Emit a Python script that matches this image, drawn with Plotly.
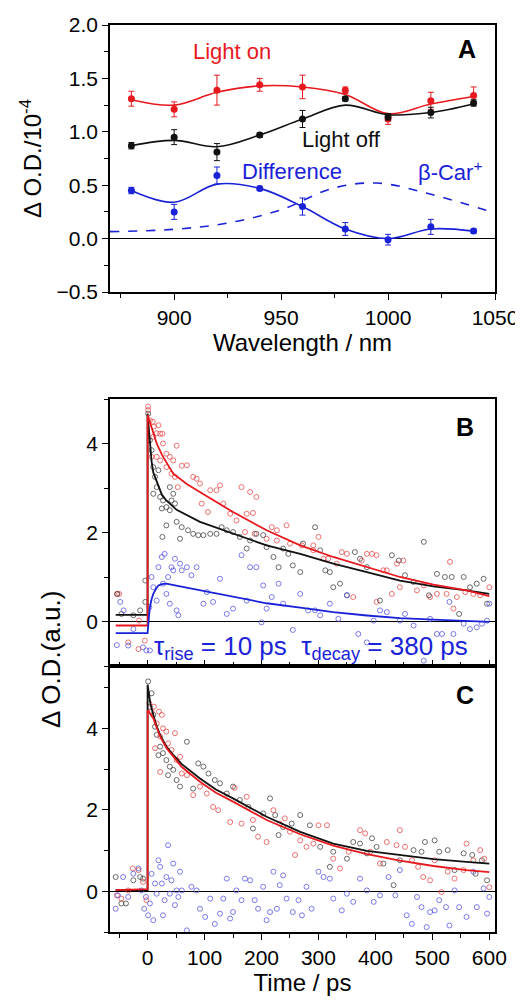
import plotly.graph_objects as go

# ==========================================
# PANEL A: spectra (wavelength in nm, dOD in 1e-4)
# ==========================================
wl = [880, 900, 920, 940, 960, 980, 1000, 1020, 1040]
on_y = [1.31, 1.21, 1.39, 1.44, 1.42, 1.39, 1.12, 1.29, 1.34]
on_err = [0.07, 0.07, 0.14, 0.06, 0.11, 0.03, 0.05, 0.08, 0.08]
off_y = [0.87, 0.95, 0.81, 0.97, 1.12, 1.31, 1.14, 1.18, 1.27]
off_err = [0.03, 0.07, 0.08, 0.02, 0.08, 0.02, 0.03, 0.05, 0.03]
diff_y = [0.45, 0.25, 0.59, 0.47, 0.30, 0.09, -0.01, 0.11, 0.07]
diff_err = [0.03, 0.07, 0.08, 0.02, 0.08, 0.06, 0.05, 0.07, 0.02]

# smooth guide curves
on_fit = [1.30, 1.25, 1.37, 1.43, 1.42, 1.35, 1.17, 1.26, 1.33]
off_fit = [0.87, 0.92, 0.86, 0.97, 1.12, 1.25, 1.16, 1.18, 1.26]
diff_fit = [0.45, 0.34, 0.51, 0.47, 0.30, 0.09, 0.00, 0.09, 0.07]

car_wl = [870, 900, 925, 950, 974, 995, 1021, 1050]
car_y = [0.065, 0.087, 0.146, 0.27, 0.47, 0.52, 0.41, 0.24]

# ==========================================
# PANEL B: kinetics (time in ps)
# ==========================================
b_red_t = [-54, -50, -34, -16, -5, -15, 1, 1, 4, 9, 11, 16, 19, 22, 26, 27, 10, 7, 16, 22, 33,
           39, 45, 33, 51, 42, 48, 53, 69, 80, 86, 92, 110, 127, 121, 95, 106, 133, 145, 156,
           165, 180, 191, 174, 185, 171, 188, 218, 227, 244, 209, 227, 250, 271, 291, 300, 291,
           309, 317, 341, 350, 332, 385, 394, 402, 376, 414, 420, 438, 449, 429, 443, 473, 485,
           496, 508, 525, 531, 543, 558, 572, 584, 600, 402, 361, 537, 60]
b_red_y = [0.62, 0.62, -0.47, -0.62, -0.43, 0.02, 4.83, 4.75, 4.52, 4.49, 4.38, 4.23, 4.41, 4.22,
           4.22, 4.0, 4.15, 3.7, 3.7, 3.62, 3.77, 3.7, 3.62, 3.47, 3.95, 3.32, 3.25, 3.02, 3.51,
           3.25, 3.21, 3.1, 2.95, 3.06, 2.95, 2.65, 2.46, 2.65, 2.42, 2.27, 3.02, 2.91, 2.8, 2.42,
           2.44, 2.01, 1.97, 2.12, 2.05, 2.16, 1.86, 1.82, 1.75, 1.71, 1.71, 1.9, 1.6, 1.41, 1.41,
           1.56, 1.52, 1.3, 1.52, 1.52, 1.49, 1.37, 1.15, 1.15, 1.3, 1.37, 0.62, 0.77, 0.7, 0.81,
           0.55, 0.62, 0.62, 1.34, 0.55, 0.66, 0.62, 0.59, 0.77, 0.44, 0.55, 0.29, 3.5]

b_blk_t = [-53, -46, -25, -13, -4, -4, 1, 4, 7, 10, 13, 16, 10, 19, 22, 27, 25, 33, 39, 42, 45,
           48, 39, 33, 26, 51, 57, 60, 71, 80, 89, 98, 110, 121, 130, 139, 150, 162, 174, 180,
           191, 203, 209, 221, 230, 238, 247, 255, 268, 273, 294, 303, 312, 320, 326, 338, 350,
           364, 373, 385, 408, 429, 441, 452, 485, 467, 494, 508, 522, 534, 547, 555, 566, 578,
           590, 596]
b_blk_y = [0.62, 0.17, 0.14, 0.25, 0.44, 0.92, 4.67, 4.07, 3.85, 3.47, 3.25, 3.02, 2.87, 3.4,
           2.8, 2.72, 2.54, 2.57, 3.02, 2.72, 2.87, 2.65, 2.5, 2.16, 1.9, 2.24, 1.86, 2.12, 2.05,
           1.97, 1.94, 1.94, 1.97, 1.97, 2.12, 2.05, 2.01, 1.9, 1.64, 1.82, 1.97, 1.94, 1.67,
           1.45, 1.22, 1.64, 1.52, 1.26, 1.11, 1.75, 2.12, 1.6, 1.15, 1.11, 0.77, 0.85, 0.59,
           1.56, 1.41, 1.22, 0.47, 1.49, 1.37, 1.04, 1.79, 0.89, 0.59, 1.07, 1.0, 1.0, 0.17, 1.0,
           0.77, 0.85, 0.96, 0.4]

b_blu_t = [-54, -48, -42, -34, -25, -8, -2, 4, 3, 7, 10, 16, 19, 25, 30, 27, 33, 36, 39, 42, 45,
           48, 51, 54, 57, 60, 69, 77, 86, 98, 104, 115, 127, 139, 150, 165, 174, 180, 191, 200,
           203, 209, 218, 230, 238, 255, 268, 282, 294, 303, 320, 335, 350, 370, 385, 397, 408,
           420, 443, 452, 467, 485, 496, 508, 517, 530, 537, 555, 566, 578, 587, 596, 600]
b_blu_y = [-0.53, 0.44, 0.25, -0.54, -0.17, -0.58, -0.65, -0.65, 0.32, 1.0, 0.77, 0.47, 1.22,
           1.45, 1.52, 0.85, 0.62, 1.0, 0.4, 1.22, 1.15, 1.41, 0.25, 0.14, 1.3, 1.15, 1.22, 1.04,
           1.22, 0.4, 0.66, 0.44, 0.96, 0.17, 0.29, 1.49, 0.47, 1.22, 1.22, -0.02, 0.81, 0.29,
           0.55, 0.85, 0.4, -0.19, 0.62, 0.25, 0.25, 0.14, 0.4, 0.06, 0.59, -0.28, -0.47, 0.02,
           0.25, 0.21, 0.02, 0.17, -0.09, -0.88, 0.06, -0.28, -0.28, 0.44, -0.28, -0.05, -0.17,
           -0.13, -0.05, 0.02, 0.4]

b_red_fit_t = [-56, 0, 0, 5, 10, 16, 25, 45, 70, 92, 120, 150, 209, 268, 326, 385, 443, 502, 560, 600]
b_red_fit_y = [-0.09, -0.09, 4.64, 4.45, 4.25, 4.0, 3.75, 3.32, 3.08, 2.91, 2.68, 2.46, 2.05,
               1.71, 1.45, 1.22, 1.0, 0.83, 0.70, 0.57]
b_blk_fit_t = [-56, 0, 0, 4, 7, 10, 16, 25, 33, 51, 92, 150, 209, 268, 326, 385, 443, 502, 560, 600]
b_blk_fit_y = [0.15, 0.15, 4.67, 4.0, 3.6, 3.35, 3.14, 2.85, 2.72, 2.51, 2.24, 1.97, 1.71, 1.52,
               1.30, 1.11, 0.92, 0.79, 0.70, 0.62]
b_blu_fit_t = [-56, 0, 2, 4, 7, 10, 15, 19, 25, 33, 57, 92, 150, 209, 268, 326, 385, 443, 502, 600]
b_blu_fit_y = [-0.26, -0.26, 0.05, 0.32, 0.5, 0.62, 0.74, 0.81, 0.84, 0.85, 0.79, 0.70, 0.55,
               0.41, 0.31, 0.21, 0.135, 0.075, 0.04, -0.01]

# ==========================================
# PANEL C: kinetics (time in ps)
# ==========================================
c_blk_t = [-56, -46, -38, -25, -13, -8, 1, 7, 4, 10, 13, 16, 22, 27, 19, 33, 39, 36, 45, 51, 57,
           69, 80, 89, 98, 107, 118, 127, 139, 150, 162, 177, 185, 203, 215, 224, 230, 238, 253,
           268, 285, 303, 320, 326, 350, 361, 373, 385, 394, 402, 414, 432, 443, 467, 481, 487,
           504, 512, 527, 539, 555, 570, 576, 587, 596]
c_blk_y = [0.35, -0.30, -0.30, 0.27, 0.35, 0.31, 5.15, 4.86, 4.53, 4.33, 4.04, 3.84, 3.55, 3.39,
           3.34, 3.22, 3.06, 2.85, 2.98, 2.73, 2.57, 3.67, 2.52, 3.14, 3.06, 2.89, 2.73, 2.65,
           2.4, 2.57, 2.24, 2.07, 1.54, 1.91, 2.28, 1.87, 1.38, 1.58, 1.66, 1.87, 1.62, 1.09,
           0.6, 0.97, 0.80, 1.21, 1.17, 0.93, 1.3, 1.09, 0.68, 0.15, 0.76, 1.01, 0.97, 1.21, 1.25,
           0.97, 1.01, 0.52, 0.93, 0.89, 0.43, 0.76, 0.27]

c_red_t = [-54, -46, -34, -26, -16, -8, -2, 3, 7, 11, 16, 20, 25, 27, 13, 22, 33, 36, 42, 48, 51,
           57, 60, 69, 22, 80, 92, 104, 115, 124, 145, 153, 165, 174, 185, 194, 209, 221, 232,
           241, 250, 259, 268, 279, 291, 300, 315, 326, 338, 353, 373, 382, 391, 408, 420, 437,
           443, 452, 464, 475, 484, 496, 504, 516, 527, 539, 555, 560, 572, 584, 591, 600]
c_red_y = [-0.1, -0.18, 0.02, 0.56, 0.52, 0.23, -0.22, 4.61, 4.41, 4.53, 4.12, 4.41, 4.33, 4.0,
           3.51, 3.8, 3.92, 3.63, 3.47, 3.88, 3.22, 3.3, 2.89, 2.85, 2.93, 2.36, 2.57, 2.4, 2.07,
           1.99, 1.7, 2.54, 1.66, 2.32, 1.75, 1.34, 1.21, 1.99, 1.66, 1.79, 1.46, 0.89, 1.25,
           1.09, 1.17, 1.62, 1.62, 0.8, 0.56, 0.97, 1.5, 1.42, 0.97, 0.68, 1.21, 1.13, 1.5, 1.09,
           0.76, 0.6, 0.35, 0.27, 0.76, -0.02, 0.48, 0.31, 0.52, 1.17, 0.76, 1.01, 0.8, 0.1]

c_blu_t = [-56, -52, -43, -34, -25, -16, -11, -6, -3, 1, 4, 7, 10, 13, 16, 19, 22, 25, 27, 30, 33,
           36, 39, 42, 45, 48, 51, 54, 57, 60, 69, 77, 86, 92, 101, 110, 118, 127, 133, 139, 145,
           150, 156, 165, 171, 180, 188, 194, 203, 209, 215, 221, 227, 232, 238, 244, 255, 265,
           271, 279, 288, 300, 309, 320, 326, 341, 350, 361, 373, 385, 397, 408, 423, 435, 443,
           455, 464, 473, 481, 490, 496, 504, 512, 524, 530, 539, 547, 560, 572, 578, 590, 596, 600]
c_blu_y = [-0.43, -0.1, 0.35, -0.14, 0.43, 0.56, 0.02, -0.43, -0.14, -0.59, -0.3, 0.43, -0.71,
           0.19, -0.06, 0.76, 0.6, 0.19, -0.59, -0.22, 0.35, 1.13, -0.06, 0.27, 0.68, -0.34, 0.02,
           -0.14, 0.48, 0.02, -0.96, 0.11, 0.02, -0.43, -0.63, -0.18, -0.8, -0.55, -0.18, 0.31,
           -0.67, -0.51, 0.02, -0.22, 0.31, 0.27, -0.22, -0.43, 0.11, -0.71, -0.51, 0.48, -0.43,
           0.15, 0.39, -0.18, -0.51, -0.22, -0.59, 0.11, -0.43, 0.48, 0.35, 0.31, -0.18, -0.47,
           -0.06, -0.26, 0.31, 0.02, -0.26, -0.1, 0.35, -0.1, 0.52, -0.59, -0.8, -0.14, -0.39,
           -0.88, -0.51, -0.47, -0.22, -0.39, -0.84, 0.02, -0.39, -0.63, 0.48, -0.39, 0.07, -0.55,
           -0.14]

c_red_fit_t = [-56, 0, 0, 5, 10, 16, 22, 33, 45, 60, 92, 120, 150, 209, 268, 326, 385, 443, 502, 560, 600]
c_red_fit_y = [0.03, 0.05, 4.45, 4.35, 4.25, 4.02, 3.80, 3.52, 3.30, 3.05, 2.69, 2.42, 2.2, 1.75,
               1.40, 1.12, 0.91, 0.75, 0.62, 0.52, 0.47]
c_blk_fit_t = [-56, 0, 0, 5, 10, 16, 22, 33, 45, 60, 92, 120, 150, 209, 268, 326, 385, 443, 502, 560, 600]
c_blk_fit_y = [0.03, 0.03, 5.07, 4.6, 4.33, 4.05, 3.84, 3.55, 3.35, 3.12, 2.77, 2.5, 2.28, 1.83,
               1.46, 1.17, 0.99, 0.89, 0.79, 0.72, 0.68]

RED = "#e8191e"
BLUE = "#1a22d8"
BLACK = "#111111"
RED_PT = "rgba(232,70,70,0.75)"
BLK_PT = "rgba(60,60,60,0.75)"
BLU_PT = "rgba(80,80,230,0.75)"
FONT = "Liberation Sans, Arial, sans-serif"

fig = go.Figure()


def add_spectrum(y, err, fit, color):
    fig.add_trace(go.Scatter(x=wl, y=fit, mode="lines", line=dict(color=color, width=1.6, shape="spline"),
                             xaxis="x", yaxis="y", showlegend=False, hoverinfo="skip"))
    fig.add_trace(go.Scatter(x=wl, y=y, mode="markers", marker=dict(color=color, size=7),
                             error_y=dict(type="data", array=err, color=color, thickness=1, width=3),
                             xaxis="x", yaxis="y", showlegend=False))


add_spectrum(on_y, on_err, on_fit, RED)
add_spectrum(off_y, off_err, off_fit, BLACK)
add_spectrum(diff_y, diff_err, diff_fit, BLUE)
fig.add_trace(go.Scatter(x=car_wl, y=car_y, mode="lines",
                         line=dict(color=BLUE, width=1.6, dash="dash", shape="spline"),
                         xaxis="x", yaxis="y", showlegend=False))


def add_points(t, y, color, xa, ya):
    fig.add_trace(go.Scatter(x=t, y=y, mode="markers",
                             marker=dict(symbol="circle-open", size=5, color=color, line=dict(width=1)),
                             xaxis=xa, yaxis=ya, showlegend=False))


def add_fit(t, y, color, xa, ya):
    fig.add_trace(go.Scatter(x=t, y=y, mode="lines", line=dict(color=color, width=1.8),
                             xaxis=xa, yaxis=ya, showlegend=False, hoverinfo="skip"))


add_points(b_red_t, b_red_y, RED_PT, "x2", "y2")
add_points(b_blk_t, b_blk_y, BLK_PT, "x2", "y2")
add_points(b_blu_t, b_blu_y, BLU_PT, "x2", "y2")
add_fit(b_blk_fit_t, b_blk_fit_y, BLACK, "x2", "y2")
add_fit(b_red_fit_t, b_red_fit_y, RED, "x2", "y2")
add_fit(b_blu_fit_t, b_blu_fit_y, BLUE, "x2", "y2")

add_points(c_blk_t, c_blk_y, BLK_PT, "x3", "y3")
add_points(c_red_t, c_red_y, RED_PT, "x3", "y3")
add_points(c_blu_t, c_blu_y, BLU_PT, "x3", "y3")
add_fit(c_blk_fit_t, c_blk_fit_y, BLACK, "x3", "y3")
add_fit(c_red_fit_t, c_red_fit_y, RED, "x3", "y3")

# the page body keeps its default 8px margin, so the figure starts at (8, 8)
OFF = 8
W = 523 - OFF
H = 1003 - OFF


def px(x):
    return (x - OFF) / W


def py(y):
    return 1 - (y - OFF) / H


xdom = [px(110), px(495)]

axis_common = dict(showline=True, linecolor="black", linewidth=1.5, mirror=True, showgrid=False,
                   ticks="outside", ticklen=6, tickwidth=1.2, tickcolor="black",
                   tickfont=dict(size=21, color="black", family=FONT),
                   zeroline=False, automargin=False)
title_font = dict(size=24, color="black", family=FONT)

fig.update_layout(
    template="none",
    width=W, height=H,
    margin=dict(l=0, r=0, t=0, b=0, autoexpand=False),
    paper_bgcolor="white", plot_bgcolor="white",
    font=dict(family=FONT, color="black"),
    xaxis=dict(axis_common, domain=xdom, anchor="y", range=[870, 1050], dtick=50, tick0=900,
               minor=dict(ticks="outside", dtick=25, tick0=875, ticklen=4, tickcolor="black"),
               title=dict(text="Wavelength / nm", font=title_font, standoff=6)),
    yaxis=dict(axis_common, domain=[py(292), py(25)], anchor="x", range=[-0.5, 2.0],
               dtick=0.5, tickformat=".1f",
               minor=dict(ticks="outside", dtick=0.25, ticklen=4, tickcolor="black"),
               zeroline=True, zerolinecolor="black", zerolinewidth=1.2,
               title=dict(text="Δ O.D./10<sup>-4</sup>", font=title_font, standoff=8)),
    xaxis2=dict(axis_common, domain=xdom, anchor="y2", range=[-66, 610], dtick=100, tick0=0,
                ticks="inside", showticklabels=False, matches="x3",
                minor=dict(ticks="inside", dtick=50, ticklen=4, tickcolor="black")),
    yaxis2=dict(axis_common, domain=[py(666), py(399)], anchor="x2", range=[-1, 5],
                dtick=2, minor=dict(ticks="outside", dtick=1, ticklen=4, tickcolor="black"),
                zeroline=True, zerolinecolor="black", zerolinewidth=1.2),
    xaxis3=dict(axis_common, domain=xdom, anchor="y3", range=[-66, 610], dtick=100, tick0=0,
                minor=dict(ticks="outside", dtick=50, ticklen=4, tickcolor="black"),
                title=dict(text="Time / ps", font=title_font, standoff=4)),
    yaxis3=dict(axis_common, domain=[py(932), py(666)], anchor="x3", range=[-1, 5.53],
                dtick=2, minor=dict(ticks="outside", dtick=1, ticklen=4, tickcolor="black"),
                zeroline=True, zerolinecolor="black", zerolinewidth=1.2),
)

ann = [
    dict(text="Light on", x=927, y=1.75, xref="x", yref="y", font=dict(size=22, color=RED)),
    dict(text="Light off", x=978, y=0.93, xref="x", yref="y", font=dict(size=22, color=BLACK)),
    dict(text="Difference", x=955, y=0.63, xref="x", yref="y", font=dict(size=22, color=BLUE)),
    dict(text="β-Car<sup>+</sup>", x=1029, y=0.63, xref="x", yref="y", font=dict(size=22, color=BLUE)),
    dict(text="<b>A</b>", x=1037, y=1.78, xref="x", yref="y", font=dict(size=25)),
    dict(text="<b>B</b>", x=557, y=4.36, xref="x2", yref="y2", font=dict(size=25)),
    dict(text="<b>C</b>", x=557, y=4.82, xref="x3", yref="y3", font=dict(size=25)),
    dict(text="τ<sub>rise</sub> = 10 ps  τ<sub>decay</sub> = 380 ps", x=287, y=-0.58,
         xref="x2", yref="y2", font=dict(size=26, color=BLUE)),
    dict(text="Δ O.D.(a.u.)", x=px(34), y=py(660), xref="paper", yref="paper",
         textangle=-90, font=dict(size=26)),
]
for a in ann:
    a.setdefault("showarrow", False)
    a["font"].setdefault("family", FONT)
    a["font"].setdefault("color", "black")
    fig.add_annotation(**a)

fig.write_html("out.html")
